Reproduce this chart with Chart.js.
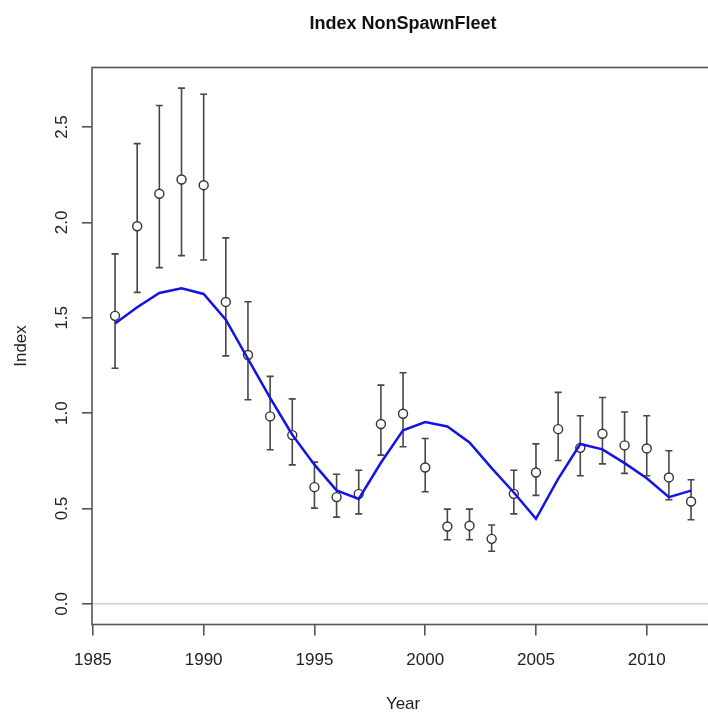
<!DOCTYPE html>
<html>
<head>
<meta charset="utf-8">
<script src="https://cdn.jsdelivr.net/npm/chart.js@4/dist/chart.umd.min.js"></script>
<style>
  html, body { margin: 0; padding: 0; background: #fff; }
  #wrap { width: 708px; height: 713px; overflow: hidden; position: relative; }
  #chart { display: block; }
</style>
</head>
<body>
<div id="wrap"><canvas id="chart" width="720" height="713"></canvas></div>
<script>
// ---- data ----
const years = [1986, 1987, 1988, 1989, 1990, 1991, 1992, 1993, 1994, 1995, 1996, 1997, 1998, 1999,
               2000, 2001, 2002, 2003, 2004, 2005, 2006, 2007, 2008, 2009, 2010, 2011, 2012];
const observed = [1.51, 1.98, 2.15, 2.225, 2.195, 1.583, 1.305, 0.983, 0.885, 0.612, 0.56, 0.577, 0.943, 0.997,
                  0.715, 0.406, 0.41, 0.341, 0.577, 0.689, 0.916, 0.818, 0.892, 0.831, 0.815, 0.663, 0.537];
const lowerCI = [1.235, 1.633, 1.763, 1.826, 1.803, 1.30, 1.07, 0.808, 0.729, 0.502, 0.455, 0.472, 0.78, 0.824,
                 0.588, 0.336, 0.336, 0.276, 0.472, 0.569, 0.752, 0.672, 0.734, 0.684, 0.672, 0.546, 0.441];
const upperCI = [1.835, 2.413, 2.613, 2.704, 2.672, 1.919, 1.584, 1.193, 1.075, 0.743, 0.68, 0.701, 1.147, 1.212,
                 0.867, 0.497, 0.497, 0.414, 0.701, 0.839, 1.109, 0.986, 1.082, 1.006, 0.986, 0.803, 0.651];
const expected = [1.47, 1.555, 1.63, 1.655, 1.625, 1.49, 1.285, 1.08, 0.887, 0.73, 0.595, 0.55, 0.74, 0.91,
                  0.953, 0.93, 0.846, 0.712, 0.584, 0.446, 0.655, 0.838, 0.81, 0.738, 0.659, 0.56, 0.594];
const xTicks = [1985, 1990, 1995, 2000, 2005, 2010];
const yTicks = [0, 0.5, 1.0, 1.5, 2.0, 2.5];

const FONT = '"Liberation Sans", Arial, Helvetica, sans-serif';

// error bars drawn under the points, through the chart's own scales
const errorBars = {
  id: 'errorBars',
  beforeDatasetsDraw(chart) {
    const { ctx, scales: { x, y } } = chart;
    ctx.save();
    ctx.strokeStyle = '#474747';
    ctx.lineWidth = 1.6;
    years.forEach((yr, i) => {
      const px = x.getPixelForValue(yr);
      const top = y.getPixelForValue(upperCI[i]);
      const bot = y.getPixelForValue(lowerCI[i]);
      ctx.beginPath();
      ctx.moveTo(px, top); ctx.lineTo(px, bot);
      ctx.moveTo(px - 3.5, top); ctx.lineTo(px + 3.5, top);
      ctx.moveTo(px - 3.5, bot); ctx.lineTo(px + 3.5, bot);
      ctx.stroke();
    });
    ctx.restore();
  }
};

// box, y tick labels, title and axis titles (R base-graphics look)
const frameAndText = {
  id: 'frameAndText',
  afterDraw(chart) {
    const { ctx, chartArea: a, scales: { y } } = chart;
    ctx.save();
    ctx.strokeStyle = '#555';
    ctx.lineWidth = 1.6;
    ctx.strokeRect(a.left, a.top, a.right - a.left, a.bottom - a.top);

    ctx.fillStyle = '#222';
    ctx.font = '17px ' + FONT;
    ctx.textAlign = 'center';
    ctx.textBaseline = 'middle';
    y.ticks.forEach(t => {
      ctx.save();
      ctx.translate(62, y.getPixelForValue(t.value));
      ctx.rotate(-Math.PI / 2);
      ctx.fillText(t.value.toFixed(1), 0, 0);
      ctx.restore();
    });

    const cx = (a.left + a.right) / 2;
    ctx.fillText('Year', cx, 704);
    ctx.save();
    ctx.translate(21, (a.top + a.bottom) / 2);
    ctx.rotate(-Math.PI / 2);
    ctx.fillText('Index', 0, 0);
    ctx.restore();

    ctx.fillStyle = '#111';
    ctx.font = 'bold 18px ' + FONT;
    ctx.fillText('Index NonSpawnFleet', cx, 24);
    ctx.restore();
  }
};

const ctx = document.getElementById('chart').getContext('2d');
new Chart(ctx, {
  type: 'line',
  data: {
    datasets: [
      {
        label: 'Expected',
        data: years.map((yr, i) => ({ x: yr, y: expected[i] })),
        borderColor: '#1414e6',
        borderWidth: 2.5,
        pointRadius: 0,
        tension: 0,
        fill: false
      },
      {
        label: 'Observed',
        data: years.map((yr, i) => ({ x: yr, y: observed[i] })),
        showLine: false,
        pointRadius: 4.5,
        pointBackgroundColor: '#fff',
        pointBorderColor: '#333',
        pointBorderWidth: 1.4
      }
    ]
  },
  options: {
    responsive: false,
    animation: false,
    layout: { padding: { left: 0, top: 67.5, right: 5, bottom: 0 } },
    plugins: { legend: { display: false }, tooltip: { enabled: false }, title: { display: false } },
    scales: {
      x: {
        type: 'linear',
        min: 1984.96,
        max: 2013.04,
        afterBuildTicks: s => { s.ticks = xTicks.map(v => ({ value: v })); },
        afterFit: s => { s.height = 88.5; },
        border: { display: false },
        grid: { drawOnChartArea: false, tickLength: 11, tickColor: '#555', lineWidth: 1.6 },
        ticks: {
          color: '#222',
          font: { family: FONT, size: 17 },
          padding: 15,
          maxRotation: 0,
          callback: v => String(v)
        }
      },
      y: {
        type: 'linear',
        min: -0.108,
        max: 2.812,
        afterBuildTicks: s => { s.ticks = yTicks.map(v => ({ value: v })); },
        afterFit: s => { s.width = 92; },
        border: { display: false },
        grid: {
          color: c => (c.tick && c.tick.value === 0 ? '#cfcfcf' : 'rgba(0,0,0,0)'),
          tickColor: '#555',
          tickLength: 10,
          lineWidth: 1.6
        },
        ticks: { display: false }
      }
    }
  },
  plugins: [errorBars, frameAndText]
});
</script>
</body>
</html>
